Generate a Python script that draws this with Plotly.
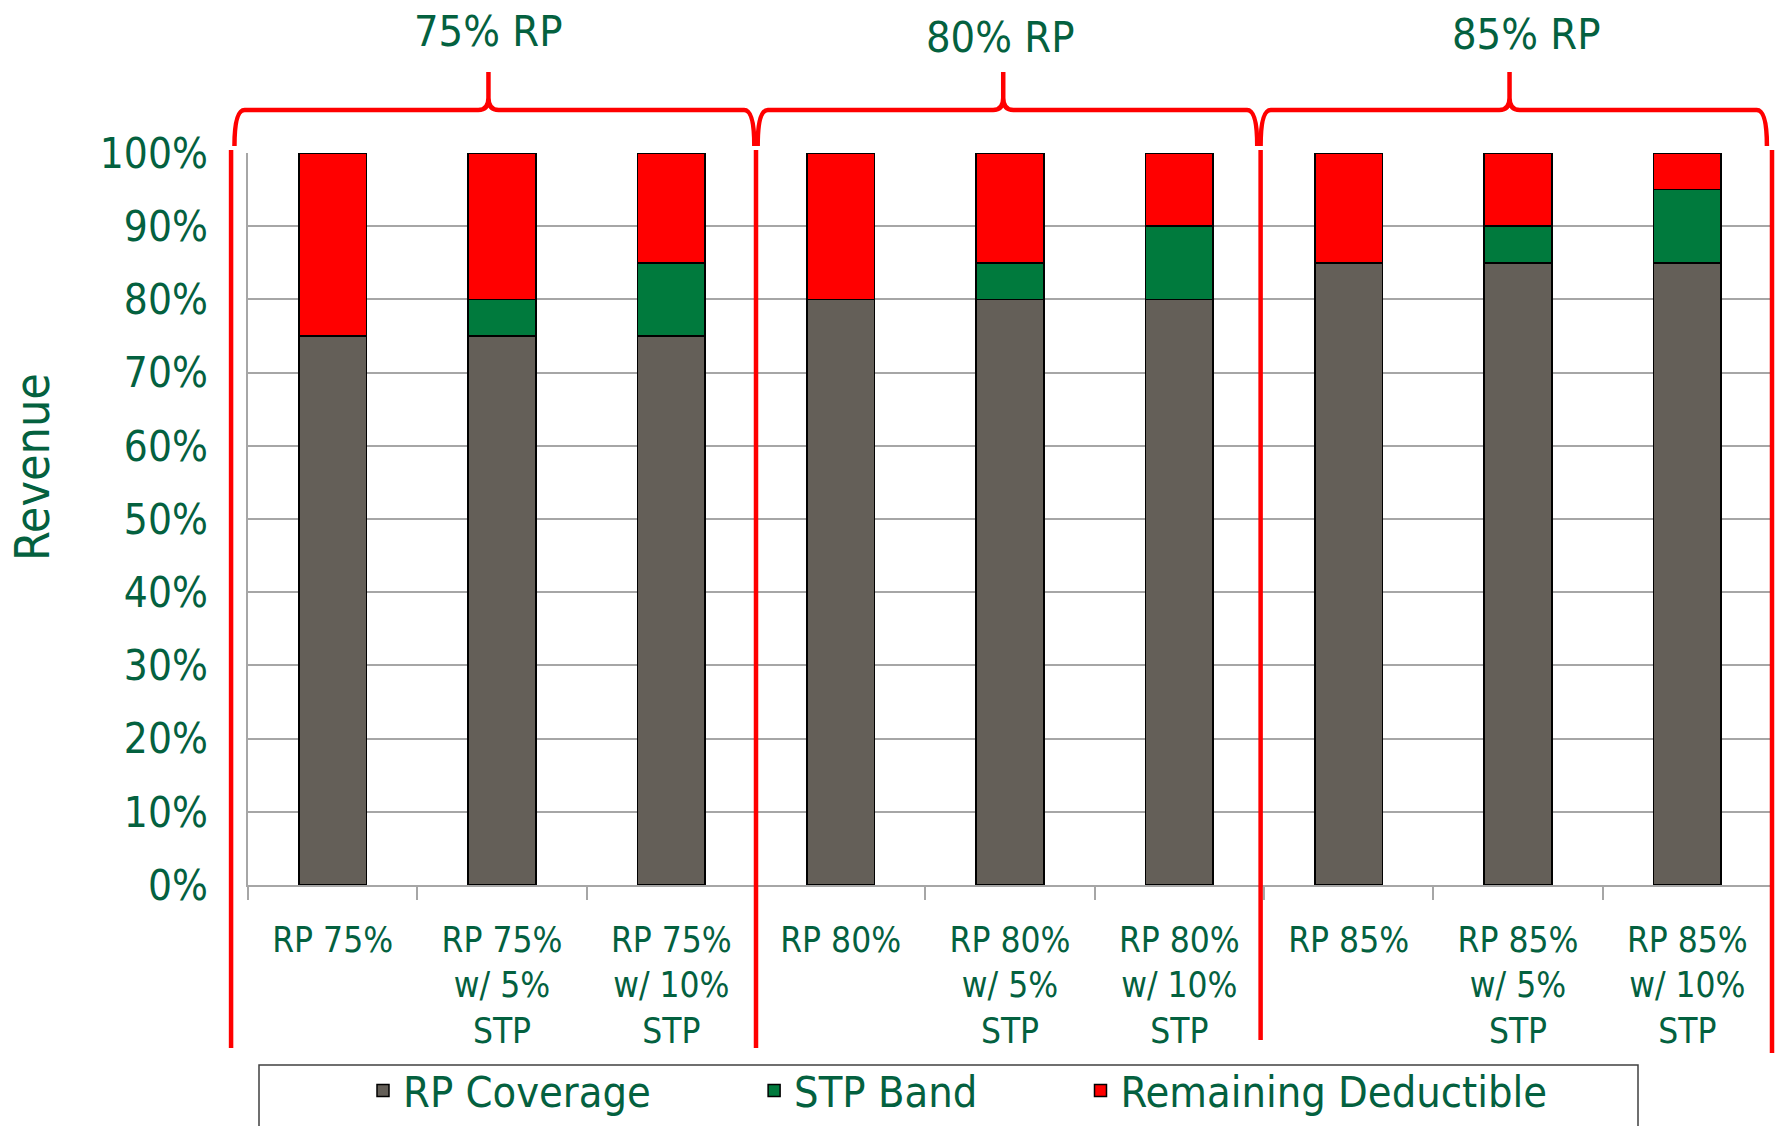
import plotly.graph_objects as go

# ---------------- data ----------------
categories = [
    "RP 75%", "RP 75%<br>w/ 5%<br>STP", "RP 75%<br>w/ 10%<br>STP",
    "RP 80%", "RP 80%<br>w/ 5%<br>STP", "RP 80%<br>w/ 10%<br>STP",
    "RP 85%", "RP 85%<br>w/ 5%<br>STP", "RP 85%<br>w/ 10%<br>STP",
]
rp_coverage = [75, 75, 75, 80, 80, 80, 85, 85, 85]
stp_band = [0, 5, 10, 0, 5, 10, 0, 5, 10]
remaining_deductible = [25, 20, 15, 20, 15, 10, 15, 10, 5]
series_names = ["RP Coverage", "STP Band", "Remaining Deductible"]
group_labels = ["75% RP", "80% RP", "85% RP"]
y_ticks = [0, 10, 20, 30, 40, 50, 60, 70, 80, 90, 100]

# ---------------- style ----------------
FONT = "DejaVu Sans Condensed, Liberation Sans Narrow, Arial Narrow, Roboto, sans-serif"
GREEN_TXT = "#04613F"
C_GRAY = "#645F58"
C_GREEN = "#007A3D"
C_RED = "#FF0000"
GRID = "#A6A6A6"
BRACE = "#FF0000"

W, H = 1775, 1126
L, R, T, B = 248, 3, 153, 241
plot_w = W - L - R
plot_h = H - T - B
X_RANGE = [-0.5, 8.5]


def py(px_y):
    """pixel y (from top of figure) -> paper y"""
    return (H - B - px_y) / plot_h


def pxx(px_x):
    return (px_x - L) / plot_w


def cx(v):
    """category coordinate -> paper x"""
    return (v - X_RANGE[0]) / (X_RANGE[1] - X_RANGE[0])


x_idx = list(range(len(categories)))
nbsp = "\u00a0"

fig = go.Figure()
for name, vals, col, pad in [
    (series_names[0], rp_coverage, C_GRAY, 8),
    (series_names[1], stp_band, C_GREEN, 8),
    (series_names[2], remaining_deductible, C_RED, 0),
]:
    fig.add_trace(go.Bar(
        x=x_idx, y=vals, name=name + nbsp * pad, width=0.4,
        marker=dict(color=col, line=dict(color="#000000", width=1.5)),
    ))

# ---------------- braces & separators ----------------
shapes = []
group_centers = [1, 4, 7]
brace_ext = [(-1.58, 1.49, -0.08), (-1.49, 1.46, -0.04), (-1.52, 1.47, -0.05)]
yb, yt, ye = py(110), py(72), py(146)
dx = 0.06 / 9
hs = 12 / plot_h
for c, (e0, e1, em) in zip(group_centers, brace_ext):
    x0, x1, xm = cx(c + e0), cx(c + e1), cx(c + em)
    path = (f"M {x0},{ye} Q {x0},{yb} {x0 + dx},{yb} "
            f"L {xm - dx},{yb} Q {xm},{yb} {xm},{yb + hs} L {xm},{yt} "
            f"L {xm},{yb + hs} Q {xm},{yb} {xm + dx},{yb} "
            f"L {x1 - dx},{yb} Q {x1},{yb} {x1},{ye}")
    shapes.append(dict(type="path", path=path, xref="paper", yref="paper",
                       line=dict(color=BRACE, width=4.5)))

sep_x = [-0.6, 2.5, 5.48, 8.5]
sep_bottom = [1048, 1048, 1040, 1053]
for sx, sb in zip(sep_x, sep_bottom):
    shapes.append(dict(type="line", xref="paper", yref="paper",
                       x0=cx(sx), x1=cx(sx), y0=py(150), y1=py(sb),
                       line=dict(color=BRACE, width=4.5)))

# legend frame
shapes.append(dict(type="rect", xref="paper", yref="paper",
                   x0=pxx(259), x1=pxx(1638), y0=py(1065), y1=py(1160),
                   line=dict(color="#404040", width=1.5), fillcolor="white",
                   layer="below"))

annotations = []
label_dx = [-0.08, -0.06, 0.05]
label_y = [31, 37, 34]
for c, lab, ldx, ly in zip(group_centers, group_labels, label_dx, label_y):
    annotations.append(dict(text=lab, x=cx(c + ldx), xref="paper", y=py(ly), yref="paper",
                            showarrow=False, xanchor="center", yanchor="middle",
                            font=dict(family=FONT, size=43, color=GREEN_TXT)))

# y-axis title (placed as rotated text, offset like the original)
annotations.append(dict(text="Revenue", x=pxx(32), xref="paper", y=py(467), yref="paper",
                        showarrow=False, xanchor="center", yanchor="middle", textangle=-90,
                        font=dict(family=FONT, size=48, color=GREEN_TXT)))

fig.update_layout(
    width=W, height=H,
    margin=dict(l=L, r=R, t=T, b=B, pad=0, autoexpand=False),
    paper_bgcolor="white", plot_bgcolor="white",
    barmode="stack", bargap=0.6,
    font=dict(family=FONT, color=GREEN_TXT),
    showlegend=True,
    legend=dict(orientation="h", x=pxx(363), xanchor="left",
                y=py(1125), yanchor="bottom",
                bgcolor="rgba(0,0,0,0)", borderwidth=0,
                font=dict(family=FONT, size=43, color=GREEN_TXT),
                traceorder="normal"),
    shapes=shapes,
    annotations=annotations,
    xaxis=dict(
        range=X_RANGE, tickmode="array", tickvals=x_idx, ticktext=categories,
        ticks="", showgrid=False, zeroline=False,
        showline=True, linecolor=GRID, linewidth=1.5,
        tickfont=dict(family=FONT, size=35, color=GREEN_TXT),
        ticklabelstandoff=23,
        minor=dict(tick0=-0.5, dtick=1, ticks="outside", ticklen=13,
                   tickcolor=GRID, tickwidth=1.5, showgrid=False),
        fixedrange=True, automargin=False,
    ),
    yaxis=dict(
        range=[0, 100], tickmode="array", tickvals=y_ticks,
        ticktext=[f"{v}%" for v in y_ticks],
        showgrid=True, gridcolor=GRID, gridwidth=1.5,
        zeroline=False, showline=True, linecolor=GRID, linewidth=1.5,
        ticks="", ticklabelstandoff=30,
        tickfont=dict(family=FONT, size=42, color=GREEN_TXT),
        automargin=False,
        fixedrange=True,
    ),
)

fig.write_html("out.html", config={"displayModeBar": False},
               post_script="document.body.style.margin='0';document.body.style.overflow='hidden';")
